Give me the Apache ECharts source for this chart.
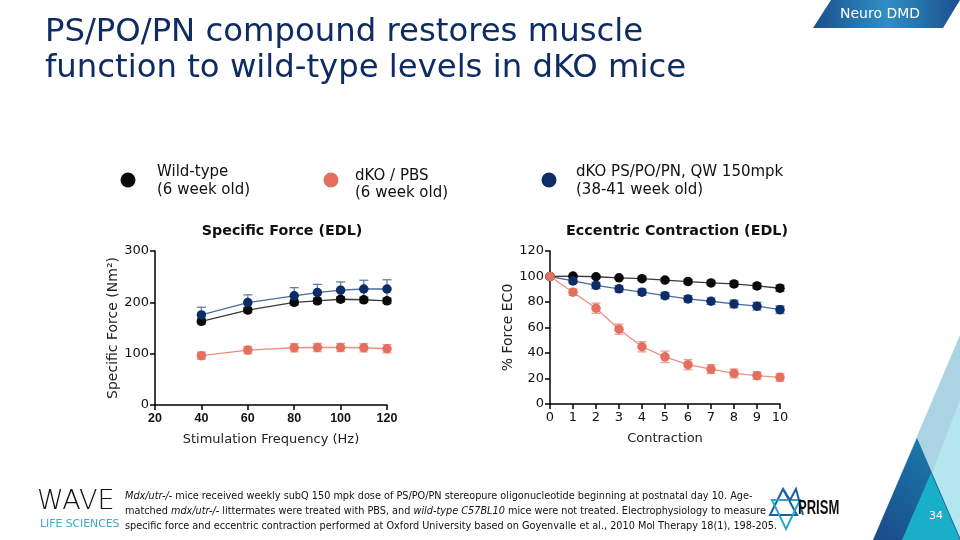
<!DOCTYPE html>
<html>
<head>
<meta charset="utf-8">
<script src="https://cdn.jsdelivr.net/npm/echarts@6/dist/echarts.min.js"></script>
<style>html,body{margin:0;padding:0;background:#fff}#c{width:960px;height:540px}</style>
</head>
<body>
<div id="c"></div>
<script>
// ---------- data ----------
var freq = [40, 60, 80, 90, 100, 110, 120];
var sfWild = [163, 185, 200, 203, 206, 205, 203];
var sfWildErr = [5, 5, 5, 5, 5, 5, 5];
var sfPBS = [96, 107, 111.5, 112, 112, 111.5, 109.6];
var sfPBSErr = [7, 7, 8, 8, 8, 8, 8];
var sfPN = [175.4, 199.6, 212.6, 219, 223.7, 226, 226];
var sfPNErr = [15, 15, 16, 16, 16, 17, 18];

var contraction = [0, 1, 2, 3, 4, 5, 6, 7, 8, 9, 10];
var ecWild = [100, 100.3, 99.8, 99, 98.3, 97.2, 96, 95, 94.2, 92.6, 90.8];
var ecWildErr = [0.5, 1, 1, 1, 1.2, 1.3, 1.5, 1.5, 2, 2, 2.5];
var ecPBS = [100, 87.7, 75.1, 58.7, 44.9, 37, 30.8, 27.4, 24, 22.2, 20.9];
var ecPBSErr = [0.5, 2.5, 4, 4, 4, 4.5, 4, 3.5, 3.5, 3, 3];
var ecPN = [100, 96.5, 93, 90.3, 87.7, 85, 82.4, 80.6, 78.5, 76.7, 74];
var ecPNErr = [0.5, 2, 2.5, 2.5, 2.5, 2.5, 2.5, 2.5, 3, 3, 3];

var sfTicks = {min: 20, max: 120, interval: 20};
var ecTicks = {min: 0, max: 10, interval: 1};

var groupNames = ['Wild-type', 'dKO / PBS', 'dKO PS/PO/PN, QW 150mpk'];
var groupAges = ['(6 week old)', '(6 week old)', '(38-41 week old)'];

// ---------- styles ----------
var C = {
  wild: {mark: '#0a0a0a', line: '#3a3a3a', err: '#555555'},
  pbs: {mark: '#e46f5e', line: '#ec8e80', err: '#eda095'},
  pn: {mark: '#0c2d66', line: '#4a6c9e', err: '#5f7fad'}
};
var navy = '#0e2c63';

function pairs(xs, ys) { return xs.map(function (x, i) { return [x, ys[i]]; }); }
function errs(xs, ys, es) { return xs.map(function (x, i) { return [x, ys[i] - es[i], ys[i] + es[i]]; }); }

function lineSeries(name, xi, yi, xs, ys, c, z) {
  return {
    name: name, type: 'line', xAxisIndex: xi, yAxisIndex: yi,
    data: pairs(xs, ys), symbol: 'circle', symbolSize: 9.5, smooth: false,
    lineStyle: {color: c.line, width: 1.3},
    itemStyle: {color: c.mark}, z: z, animation: false, silent: true
  };
}
function errSeries(xi, yi, xs, ys, es, c, z) {
  return {
    type: 'custom', xAxisIndex: xi, yAxisIndex: yi, z: z, animation: false, silent: true,
    data: errs(xs, ys, es),
    renderItem: function (params, api) {
      var x = api.value(0);
      var lo = api.coord([x, api.value(1)]);
      var hi = api.coord([x, api.value(2)]);
      var w = 4.5;
      var st = {stroke: c.err, lineWidth: 1.3};
      return {type: 'group', children: [
        {type: 'line', shape: {x1: lo[0], y1: lo[1], x2: hi[0], y2: hi[1]}, style: st},
        {type: 'line', shape: {x1: lo[0] - w, y1: lo[1], x2: lo[0] + w, y2: lo[1]}, style: st},
        {type: 'line', shape: {x1: hi[0] - w, y1: hi[1], x2: hi[0] + w, y2: hi[1]}, style: st}
      ]};
    }
  };
}

var axisLine = {show: true, lineStyle: {color: '#000', width: 1.5}};
var axisTick = {show: true, length: 5, inside: false, lineStyle: {color: '#000', width: 1.5}};
var FONT = 'DejaVu Sans, Verdana, sans-serif';

var chart = echarts.init(document.getElementById('c'), null, {renderer: 'canvas'});

var graphics = [];
// title
graphics.push({type: 'text', left: 45, top: 14, style: {text: 'PS/PO/PN compound restores muscle\nfunction to wild-type levels in dKO mice', font: '32.3px ' + FONT, fill: navy, lineHeight: 36.5}});
// Neuro DMD banner
graphics.push({type: 'polygon', shape: {points: [[831, 0], [960, 0], [943, 28], [813, 28]]},
  style: {fill: new echarts.graphic.LinearGradient(0, 0, 1, 0, [{offset: 0, color: '#1b4f8e'}, {offset: 0.5, color: '#2f8fc4'}, {offset: 1, color: '#1b4f8e'}])}});
graphics.push({type: 'text', x: 880, y: 14, style: {text: 'Neuro DMD', font: '14px ' + FONT, fill: '#fff', textAlign: 'center', textVerticalAlign: 'middle'}});
// legend
var legX = [[128, 157], [331, 355], [549, 576]];
var legY = [[172, 190], [176, 193], [172, 190]];
var legC = [C.wild.mark, C.pbs.mark, C.pn.mark];
for (var i = 0; i < 3; i++) {
  graphics.push({type: 'circle', shape: {cx: legX[i][0], cy: 180, r: 7.5}, style: {fill: legC[i]}});
  graphics.push({type: 'text', x: legX[i][1], y: legY[i][0], style: {text: groupNames[i], font: '15px ' + FONT, fill: '#111', textVerticalAlign: 'middle'}});
  graphics.push({type: 'text', x: legX[i][1], y: legY[i][1], style: {text: groupAges[i], font: '15px ' + FONT, fill: '#111', textVerticalAlign: 'middle'}});
}
// chart titles
graphics.push({type: 'text', x: 282, y: 231, style: {text: 'Specific Force (EDL)', font: 'bold 14.3px ' + FONT, fill: '#111', textAlign: 'center', textVerticalAlign: 'middle'}});
graphics.push({type: 'text', x: 677, y: 231, style: {text: 'Eccentric Contraction (EDL)', font: 'bold 14.3px ' + FONT, fill: '#111', textAlign: 'center', textVerticalAlign: 'middle'}});
// footnote
var fnFont = '10.8px "Liberation Sans Narrow", "DejaVu Sans Condensed", sans-serif';
graphics.push({type: 'text', x: 125, y: 511, style: {
  text: '{i|Mdx/utr-/-} mice received weekly subQ 150 mpk dose of PS/PO/PN stereopure oligonucleotide beginning at postnatal day 10. Age-\n' +
        'matched {i|mdx/utr-/-} littermates were treated with PBS, and {i|wild-type C57BL10} mice were not treated. Electrophysiology to measure\n' +
        'specific force and eccentric contraction performed at Oxford University based on Goyenvalle et al., 2010 Mol Therapy 18(1), 198-205.',
  font: fnFont, fill: '#111', lineHeight: 15, textVerticalAlign: 'middle',
  rich: {i: {fontStyle: 'italic', font: 'italic ' + fnFont}}
}});
// WAVE logo
graphics.push({type: 'text', x: 37, y: 502, style: {text: 'WAVE', font: '300 27px "DejaVu Sans ExtraLight", "DejaVu Sans", sans-serif', fill: '#111', textVerticalAlign: 'middle'}});
graphics.push({type: 'text', x: 40, y: 524, style: {text: 'LIFE SCIENCES', font: '10.8px ' + FONT, fill: '#3fa7c9', textVerticalAlign: 'middle'}});
// PRISM logo
graphics.push({type: 'polygon', shape: {points: [[783, 489], [770, 515], [797, 515]]}, style: {fill: 'none', stroke: '#1d5f9c', lineWidth: 2}});
graphics.push({type: 'polygon', shape: {points: [[772, 500], [800, 500], [786, 529]]}, style: {fill: 'none', stroke: '#2aa6c9', lineWidth: 2}});
graphics.push({type: 'polyline', shape: {points: [[783, 489], [790, 500], [796, 489], [803, 515]]}, style: {fill: 'none', stroke: '#1d5f9c', lineWidth: 2}});
graphics.push({type: 'text', x: 798, y: 508, scaleX: 0.62,
  style: {text: 'PRISM', font: 'bold 21px "Liberation Sans", sans-serif', fill: '#111', textVerticalAlign: 'middle'}});
// decorative triangles
graphics.push({type: 'polygon', shape: {points: [[960, 335], [873, 540], [960, 540]]}, style: {fill: '#acd3e3'}});
graphics.push({type: 'polygon', shape: {points: [[960, 400], [906, 540], [960, 540]]}, style: {fill: '#b3e6ef'}});
graphics.push({type: 'polygon', shape: {points: [[917, 438], [873, 540], [961, 540]]},
  style: {fill: new echarts.graphic.LinearGradient(0, 1, 1, 0, [{offset: 0, color: '#1b4a8a'}, {offset: 1, color: '#1a82b0'}])}});
graphics.push({type: 'polygon', shape: {points: [[931, 473], [902, 540], [960, 540]]}, style: {fill: '#19afc8'}});
graphics.push({type: 'text', x: 936, y: 516, style: {text: '34', font: '11px ' + FONT, fill: '#fff', textAlign: 'center', textVerticalAlign: 'middle'}});

var option = {
  backgroundColor: '#fff',
  animation: false,
  grid: [
    {left: 155, top: 251, width: 232, height: 154},
    {left: 550, top: 251, width: 230, height: 153}
  ],
  xAxis: [
    {type: 'value', gridIndex: 0, min: sfTicks.min, max: sfTicks.max, interval: sfTicks.interval,
      axisLine: axisLine, axisTick: axisTick, splitLine: {show: false},
      axisLabel: {color: '#111', fontWeight: 'bold', fontSize: 12.5, fontFamily: 'Liberation Sans, Arial, sans-serif', margin: 7},
      name: 'Stimulation Frequency (Hz)', nameLocation: 'middle', nameGap: 28,
      nameTextStyle: {color: '#222', fontSize: 13, fontFamily: FONT}},
    {type: 'value', gridIndex: 1, min: ecTicks.min, max: ecTicks.max, interval: ecTicks.interval,
      axisLine: axisLine, axisTick: axisTick, splitLine: {show: false},
      axisLabel: {color: '#111', fontSize: 13, fontFamily: FONT, margin: 7},
      name: 'Contraction', nameLocation: 'middle', nameGap: 28,
      nameTextStyle: {color: '#222', fontSize: 13, fontFamily: FONT}}
  ],
  yAxis: [
    {type: 'value', gridIndex: 0, min: 0, max: 300, interval: 100,
      axisLine: axisLine, axisTick: axisTick, splitLine: {show: false},
      axisLabel: {color: '#111', fontSize: 13, fontFamily: FONT, margin: 6},
      name: 'Specific Force (Nm²)', nameLocation: 'middle', nameGap: 34,
      nameTextStyle: {color: '#222', fontSize: 14, fontFamily: FONT}},
    {type: 'value', gridIndex: 1, min: 0, max: 120, interval: 20,
      axisLine: axisLine, axisTick: axisTick, splitLine: {show: false},
      axisLabel: {color: '#111', fontSize: 13, fontFamily: FONT, margin: 6},
      name: '% Force EC0', nameLocation: 'middle', nameGap: 35,
      nameTextStyle: {color: '#222', fontSize: 14, fontFamily: FONT}}
  ],
  series: [
    errSeries(0, 0, freq, sfWild, sfWildErr, C.wild, 2),
    errSeries(0, 0, freq, sfPBS, sfPBSErr, C.pbs, 2),
    errSeries(0, 0, freq, sfPN, sfPNErr, C.pn, 2),
    lineSeries(groupNames[0], 0, 0, freq, sfWild, C.wild, 3),
    lineSeries(groupNames[1], 0, 0, freq, sfPBS, C.pbs, 3),
    lineSeries(groupNames[2], 0, 0, freq, sfPN, C.pn, 3),
    errSeries(1, 1, contraction, ecWild, ecWildErr, C.wild, 2),
    errSeries(1, 1, contraction, ecPBS, ecPBSErr, C.pbs, 2),
    errSeries(1, 1, contraction, ecPN, ecPNErr, C.pn, 2),
    lineSeries(groupNames[0], 1, 1, contraction, ecWild, C.wild, 3),
    lineSeries(groupNames[2], 1, 1, contraction, ecPN, C.pn, 3),
    lineSeries(groupNames[1], 1, 1, contraction, ecPBS, C.pbs, 4)
  ],
  graphic: graphics
};
chart.setOption(option);
</script>
</body>
</html>
